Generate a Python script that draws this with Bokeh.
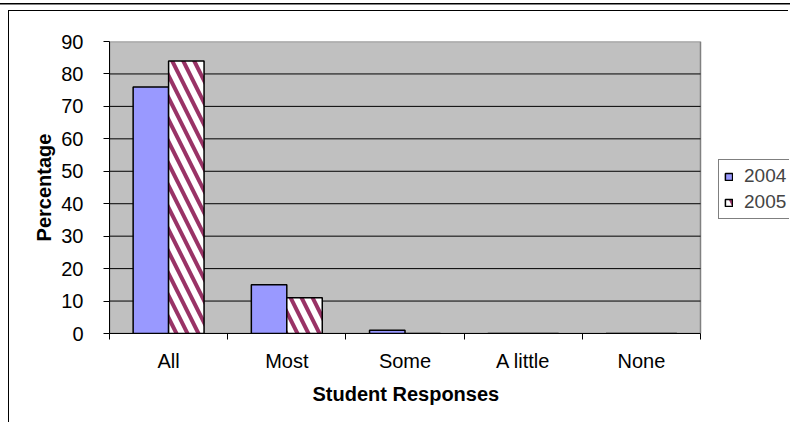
from bokeh.plotting import figure
from bokeh.models import (ColumnDataSource, FixedTicker, Legend, LegendItem,
                          Range1d, LinearAxis, Title)
from bokeh.embed import file_html
from bokeh.resources import INLINE

categories = ["All", "Most", "Some", "A little", "None"]
y2004 = [76, 15, 1, 0, 0]
y2005 = [84, 11, 0, 0, 0]
series_names = ["2004", "2005"]
y_ticks = [0, 10, 20, 30, 40, 50, 60, 70, 80, 90]
x_title = "Student Responses"
y_title = "Percentage"

FONT = "Liberation Sans"
TICK_FS = "20px"
TITLE_FS = "20px"
W, H = 780, 412
LEFT = 100            # px from canvas edge to plot area
PLOT_W = 591          # px width of the grey plot area
FRAME_W = W - LEFT    # frame runs to the canvas edge so the legend can sit right of the plot area
n = len(categories)
ymax = y_ticks[-1]

p = figure(width=W, height=H, output_backend="svg", toolbar_location=None,
           x_range=Range1d(0, n * FRAME_W / PLOT_W), y_range=Range1d(0, ymax),
           min_border_left=LEFT, min_border_right=0, min_border_top=30,
           min_border_bottom=90, x_axis_location=None, y_axis_location=None)
p.background_fill_color = "white"
p.border_fill_color = None
p.outline_line_color = None
p.xgrid.visible = False
p.ygrid.visible = False

# grey plot area with its border
p.quad(left=0, right=n, bottom=0, top=ymax, fill_color="#C0C0C0",
       line_color="#808080", line_width=1.5)
# horizontal gridlines across the plot area
inner = y_ticks[1:-1]
p.segment(x0=[0] * len(inner), x1=[n] * len(inner), y0=inner, y1=inner,
          line_color="black", line_width=1)

idx = list(range(n))
src = ColumnDataSource(dict(
    x1=[i + 0.35 for i in idx], x2=[i + 0.65 for i in idx],
    y1=y2004, y2=y2005))

r1 = p.vbar(x="x1", top="y1", width=0.3, bottom=0, source=src,
            fill_color="#9999FF", line_color="black", line_width=1.5)
r2 = p.vbar(x="x2", top="y2", width=0.3, bottom=0, source=src,
            fill_color="white", line_color="black", line_width=1.5,
            hatch_pattern="\\", hatch_color="#993366", hatch_scale=22,
            hatch_weight=4)

# y axis
ya = LinearAxis(ticker=FixedTicker(ticks=y_ticks))
ya.axis_line_color = "black"
ya.major_tick_out = 6
ya.major_tick_in = 0
ya.minor_tick_line_color = None
ya.major_label_text_font = FONT
ya.major_label_text_font_size = TICK_FS
ya.major_label_text_color = "black"
ya.major_label_standoff = 20
ya.axis_label = y_title
ya.axis_label_text_font = FONT
ya.axis_label_text_font_style = "bold"
ya.axis_label_text_font_size = TITLE_FS
ya.axis_label_text_color = "black"
ya.axis_label_standoff = 3
p.add_layout(ya, "left")

# x axis: labels at category centres, ticks at category boundaries
centres = [i + 0.5 for i in idx]
xa = LinearAxis(ticker=FixedTicker(ticks=centres,
                                   minor_ticks=list(range(n + 1))),
                bounds=(0, n))
xa.major_label_overrides = {c: lab for c, lab in zip(centres, categories)}
xa.axis_line_color = "black"
xa.major_tick_line_color = None
xa.minor_tick_out = 6
xa.minor_tick_in = 0
xa.minor_tick_line_color = "black"
xa.major_label_text_font = FONT
xa.major_label_text_font_size = TICK_FS
xa.major_label_text_color = "black"
xa.major_label_standoff = 10
p.add_layout(xa, "below")

# x axis title, centred under the grey plot area
xt = Title(text=x_title, align="left", offset=203, text_font=FONT,
           text_font_size=TITLE_FS, text_font_style="bold", text_color="black",
           standoff=13)
p.add_layout(xt, "below")

legend = Legend(items=[LegendItem(label=series_names[0], renderers=[r1]),
                       LegendItem(label=series_names[1], renderers=[r2])],
                orientation="vertical", location=(609, 114))
legend.label_text_font = FONT
legend.label_text_font_size = "19px"
legend.glyph_width = 9
legend.glyph_height = 9
legend.spacing = 4
legend.padding = 5
legend.margin = 0
legend.label_standoff = 11
legend.border_line_color = "black"
legend.border_line_width = 1
legend.background_fill_color = "white"
legend.background_fill_alpha = 1
p.add_layout(legend, "center")

p.styles = {"border-left": "1.5px solid black", "border-top": "1.5px solid black",
            "margin-left": "8px", "margin-top": "10px",
            "box-shadow": "0 2.5px 0 8px white, 0 1px 0 8px black"}

open("out.html", "w").write(file_html(p, INLINE))
